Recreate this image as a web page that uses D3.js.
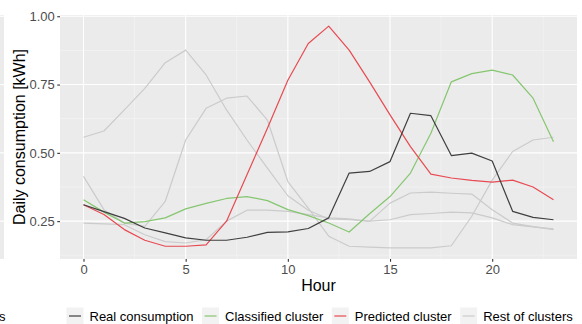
<!DOCTYPE html>
<html>
<head>
<meta charset="utf-8">
<script src="https://cdn.jsdelivr.net/npm/d3@7"></script>
<style>
  html, body { margin: 0; padding: 0; background: #ffffff; }
  svg { display: block; font-family: "Liberation Sans", Arial, Helvetica, sans-serif; }
</style>
</head>
<body>
<svg id="chart" width="582" height="324"></svg>
<script>
// Hourly daily-consumption profiles (kWh)
const hours = [0,1,2,3,4,5,6,7,8,9,10,11,12,13,14,15,16,17,18,19,20,21,22,23];

const realConsumption = [0.310,0.285,0.260,0.225,0.207,0.189,0.180,0.180,0.191,0.209,0.211,0.223,
                         0.262,0.426,0.432,0.468,0.645,0.636,0.490,0.499,0.470,0.286,0.264,0.255];
const classifiedCluster = [0.328,0.283,0.243,0.248,0.262,0.295,0.315,0.333,0.340,0.325,0.292,0.270,
                           0.243,0.210,0.277,0.340,0.426,0.572,0.760,0.790,0.803,0.785,0.700,0.541];
const predictedCluster = [0.310,0.274,0.219,0.180,0.158,0.158,0.163,0.250,0.420,0.590,0.766,0.900,
                          0.964,0.876,0.760,0.639,0.523,0.422,0.408,0.399,0.393,0.400,0.375,0.328];
const restClusterA = [0.557,0.580,0.657,0.736,0.830,0.876,0.785,0.657,0.547,0.444,0.343,0.290,
                      0.258,0.255,0.250,0.255,0.274,0.278,0.283,0.280,0.262,0.237,0.229,0.222];
const restClusterB = [0.414,0.292,0.243,0.231,0.322,0.547,0.663,0.700,0.708,0.620,0.395,0.298,
                      0.195,0.158,0.155,0.152,0.152,0.152,0.160,0.268,0.400,0.505,0.547,0.557];
const restClusterC = [0.243,0.240,0.237,0.200,0.175,0.170,0.182,0.250,0.290,0.290,0.286,0.274,
                      0.262,0.258,0.249,0.316,0.353,0.356,0.352,0.349,0.292,0.243,0.230,0.219];

const xTicks = [0, 5, 10, 15, 20];
const yTicks = [0.25, 0.50, 0.75, 1.00];
const legendLabels = ["Real consumption", "Classified cluster", "Predicted cluster", "Rest of clusters"];
const seriesColors = ["#3f3f3f", "#86c670", "#e84a52", "#cbcbcb"];

const svg = d3.select("#chart");
const panel = { left: 60, right: 577, top: 15, bottom: 259 };

// ggplot-style 5% expansion around the data range
const allValues = [].concat(realConsumption, classifiedCluster, predictedCluster,
                            restClusterA, restClusterB, restClusterC);
const [vMin, vMax] = d3.extent(allValues);
const vPad = (vMax - vMin) * 0.05;
const [hMin, hMax] = d3.extent(hours);
const hPad = (hMax - hMin) * 0.05;

const x = d3.scaleLinear().domain([hMin - hPad, hMax + hPad]).range([panel.left, panel.right]);
const y = d3.scaleLinear().domain([vMin - vPad, vMax + vPad]).range([panel.bottom, panel.top]);

// Sliver of the neighbouring panel at the left edge
svg.append("rect").attr("x", 0).attr("y", panel.top).attr("width", 4)
  .attr("height", panel.bottom - panel.top).attr("fill", "#ebebeb");
yTicks.forEach(t => {
  svg.append("line").attr("x1", 0).attr("x2", 4).attr("y1", y(t)).attr("y2", y(t))
    .attr("stroke", "#ffffff").attr("stroke-width", 1.1);
});

// Panel background
svg.append("rect")
  .attr("x", panel.left).attr("y", panel.top)
  .attr("width", panel.right - panel.left).attr("height", panel.bottom - panel.top)
  .attr("fill", "#ebebeb");

// Minor grid
const xMinor = [2.5, 7.5, 12.5, 17.5, 22.5];
const yMinor = [0.125, 0.375, 0.625, 0.875];
const grid = svg.append("g");
xMinor.forEach(t => grid.append("line")
  .attr("x1", x(t)).attr("x2", x(t)).attr("y1", panel.top).attr("y2", panel.bottom)
  .attr("stroke", "#f7f7f7").attr("stroke-width", 0.55));
yMinor.forEach(t => grid.append("line")
  .attr("x1", panel.left).attr("x2", panel.right).attr("y1", y(t)).attr("y2", y(t))
  .attr("stroke", "#f7f7f7").attr("stroke-width", 0.55));
// Major grid
xTicks.forEach(t => grid.append("line")
  .attr("x1", x(t)).attr("x2", x(t)).attr("y1", panel.top).attr("y2", panel.bottom)
  .attr("stroke", "#ffffff").attr("stroke-width", 1.1));
yTicks.forEach(t => grid.append("line")
  .attr("x1", panel.left).attr("x2", panel.right).attr("y1", y(t)).attr("y2", y(t))
  .attr("stroke", "#ffffff").attr("stroke-width", 1.1));

// Lines
const line = d3.line().x((d, i) => x(hours[i])).y(d => y(d));
const lines = svg.append("g").attr("fill", "none").attr("stroke-width", 1.2)
  .attr("stroke-linejoin", "round");
[restClusterA, restClusterB, restClusterC].forEach(s => {
  lines.append("path").attr("d", line(s)).attr("stroke", seriesColors[3]);
});
lines.append("path").attr("d", line(classifiedCluster)).attr("stroke", seriesColors[1]);
lines.append("path").attr("d", line(predictedCluster)).attr("stroke", seriesColors[2]);
lines.append("path").attr("d", line(realConsumption)).attr("stroke", seriesColors[0]);

// Axes
const xAxis = svg.append("g").attr("transform", `translate(0,${panel.bottom})`)
  .call(d3.axisBottom(x).tickValues(xTicks).tickFormat(d3.format("d")).tickSize(2.75).tickPadding(3));
const yAxis = svg.append("g").attr("transform", `translate(${panel.left},0)`)
  .call(d3.axisLeft(y).tickValues(yTicks).tickFormat(d3.format(".2f")).tickSize(2.75).tickPadding(2.5));
[xAxis, yAxis].forEach(a => {
  a.select(".domain").remove();
  a.selectAll(".tick line").attr("stroke", "#333333").attr("stroke-width", 1.1);
  a.selectAll(".tick text").attr("fill", "#4d4d4d").style("font-size", "13px")
    .style("font-family", "'Liberation Sans', Arial, sans-serif");
});

// Axis titles
svg.append("text").attr("x", (panel.left + panel.right) / 2).attr("y", 291)
  .attr("text-anchor", "middle").attr("fill", "#000000").style("font-size", "16px")
  .text("Hour");
svg.append("text")
  .attr("transform", `translate(25,${(panel.top + panel.bottom) / 2}) rotate(-90)`)
  .attr("text-anchor", "middle").attr("fill", "#000000").style("font-size", "16px")
  .text("Daily consumption [kWh]");

// Legend
const legend = svg.append("g");
legend.append("text").attr("x", -1).attr("y", 320.5).attr("fill", "#000000")
  .style("font-size", "13px").text("s");
let lx = 66.5;
const ly = 316;
legendLabels.forEach((lab, i) => {
  legend.append("rect").attr("x", lx).attr("y", ly - 8.5).attr("width", 17).attr("height", 17)
    .attr("fill", "#f2f2f2");
  legend.append("line").attr("x1", lx + 2.5).attr("x2", lx + 14.5).attr("y1", ly).attr("y2", ly)
    .attr("stroke", seriesColors[i]).attr("stroke-width", 1.2);
  const t = legend.append("text").attr("x", lx + 23).attr("y", ly + 4.5)
    .attr("fill", "#000000").style("font-size", "13px").text(lab);
  lx += 23 + t.node().getComputedTextLength() + 8.5;
});
</script>
</body>
</html>
